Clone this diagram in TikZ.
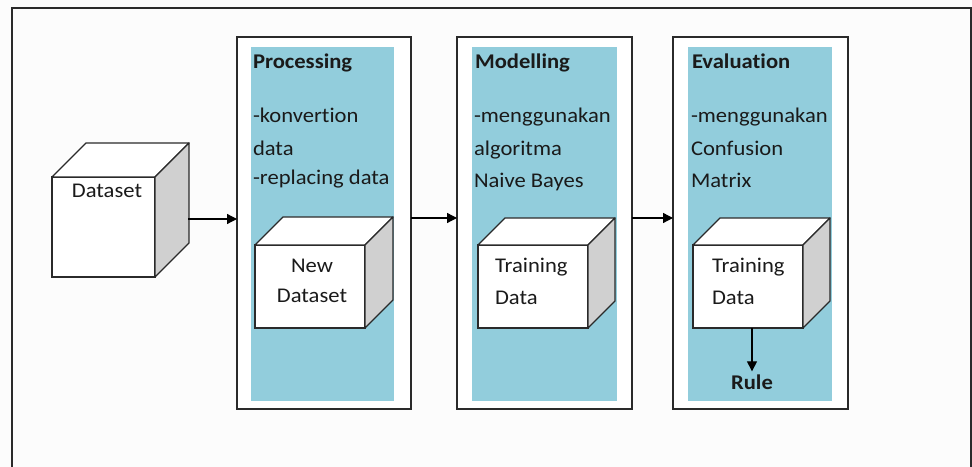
\documentclass[tikz,border=0pt]{standalone}
\usepackage{fontspec}
\setmainfont{Carlito}[FakeStretch=1.08, Ligatures=NoCommon]
\usetikzlibrary{arrows.meta,calc}
\definecolor{stageblue}{HTML}{92CDDC}
\definecolor{sidegray}{HTML}{D0D0D0}
\definecolor{linegray}{HTML}{2A2A2A}
\definecolor{txt}{HTML}{1A1A1A}
\tikzset{
  frameline/.style={draw=linegray, line width=1.8bp},
  stagebox/.style={draw=linegray, line width=1.6bp, inner sep=0pt, outer sep=0pt, fill=white},
  bluepanel/.style={fill=stageblue, draw=none, inner sep=0pt, outer sep=0pt},
  cubefront/.style={draw=linegray, line width=1.3bp, fill=white, inner sep=0pt, outer sep=0pt},
  cubeline/.style={draw=linegray, line width=1.3bp, line join=round},
  lbl/.style={inner sep=0pt, outer sep=0pt, text=txt, anchor=base west},
  clbl/.style={inner sep=0pt, outer sep=0pt, text=txt, anchor=base},
  ttl/.style={font=\fontsize{21}{25}\selectfont\bfseries},
  arr/.style={draw=black, line width=1.3bp, -{Triangle[length=10bp,width=10bp]}},
}
\newcommand{\cubefaces}[2]{%
  \draw[cubeline, fill=white] (#1.north west) -- ++(#2,-#2) -- ($(#1.north east)+(#2,-#2)$) -- (#1.north east) -- cycle;
  \draw[cubeline, fill=sidegray] (#1.north east) -- ++(#2,-#2) -- ($(#1.south east)+(#2,-#2)$) -- (#1.south east) -- cycle;
}
\begin{document}
\begin{tikzpicture}[x=1bp,y=-1bp, font=\fontsize{21}{25}\selectfont]
\useasboundingbox (0,0) rectangle (972,467);
\fill[white!99!black] (0,0) rectangle (972,467);
\draw[frameline] (12,8) rectangle (971,500);

% stage boxes
\node[stagebox, minimum width=174bp, minimum height=372bp] (proc) at (324,223) {};
\node[stagebox, minimum width=175bp, minimum height=372bp] (mod) at (544.5,223) {};
\node[stagebox, minimum width=175bp, minimum height=372bp] (eval) at (760.5,223) {};
\node[bluepanel, minimum width=143bp, minimum height=354bp] (procbg) at (322.5,224) {};
\node[bluepanel, minimum width=145bp, minimum height=354bp] (modbg) at (544.5,224) {};
\node[bluepanel, minimum width=144bp, minimum height=354bp] (evalbg) at (760,224) {};

% texts
\node[lbl, ttl] (tproc) at (253,69) {Processing};
\node[lbl] (p1) at (253,123) {-konvertion};
\node[lbl] (p2) at (253,156) {data};
\node[lbl] (p3) at (253,185) {-replacing data};

\node[lbl, ttl] (tmod) at (475,69) {Modelling};
\node[lbl] (m1) at (474,123) {-menggunakan};
\node[lbl] (m2) at (474,156) {algoritma};
\node[lbl] (m3) at (474,188) {Naive Bayes};

\node[lbl, ttl] (teval) at (692,69) {Evaluation};
\node[lbl] (e1) at (691,123) {-menggunakan};
\node[lbl] (e2) at (691,156) {Confusion};
\node[lbl] (e3) at (691,188) {Matrix};

% cubes
\node[cubefront, minimum width=103bp, minimum height=100bp] (ds) at (103.5,227) {};
\cubefaces{ds}{34}
\node[clbl] (dst) at (107,198) {Dataset};

\node[cubefront, minimum width=110bp, minimum height=83bp] (nds) at (310,286.5) {};
\cubefaces{nds}{28}
\node[clbl] (ndt1) at (312,273) {New};
\node[clbl] (ndt2) at (312,303) {Dataset};

\node[cubefront, minimum width=110bp, minimum height=83bp] (td1) at (533,286.5) {};
\cubefaces{td1}{27}
\node[lbl] (tt1) at (495,273) {Training};
\node[lbl] (tt2) at (495,305) {Data};

\node[cubefront, minimum width=110bp, minimum height=83bp] (td2) at (748,286.5) {};
\cubefaces{td2}{27}
\node[lbl] (tu1) at (712,273) {Training};
\node[lbl] (tu2) at (712,305) {Data};

\node[clbl, ttl] (rule) at (752,389) {Rule};

% connectors
\coordinate (dsR) at (188,219);
\coordinate (ay) at (0,218);
\draw[arr] (dsR) -- (proc.west |- dsR);
\draw[arr] (proc.east |- ay) -- (mod.west |- ay);
\draw[arr] (mod.east |- ay) -- (eval.west |- ay);
\draw[arr] (td2.south -| rule) -- ([yshift=3bp]rule.north);
\end{tikzpicture}
\end{document}
